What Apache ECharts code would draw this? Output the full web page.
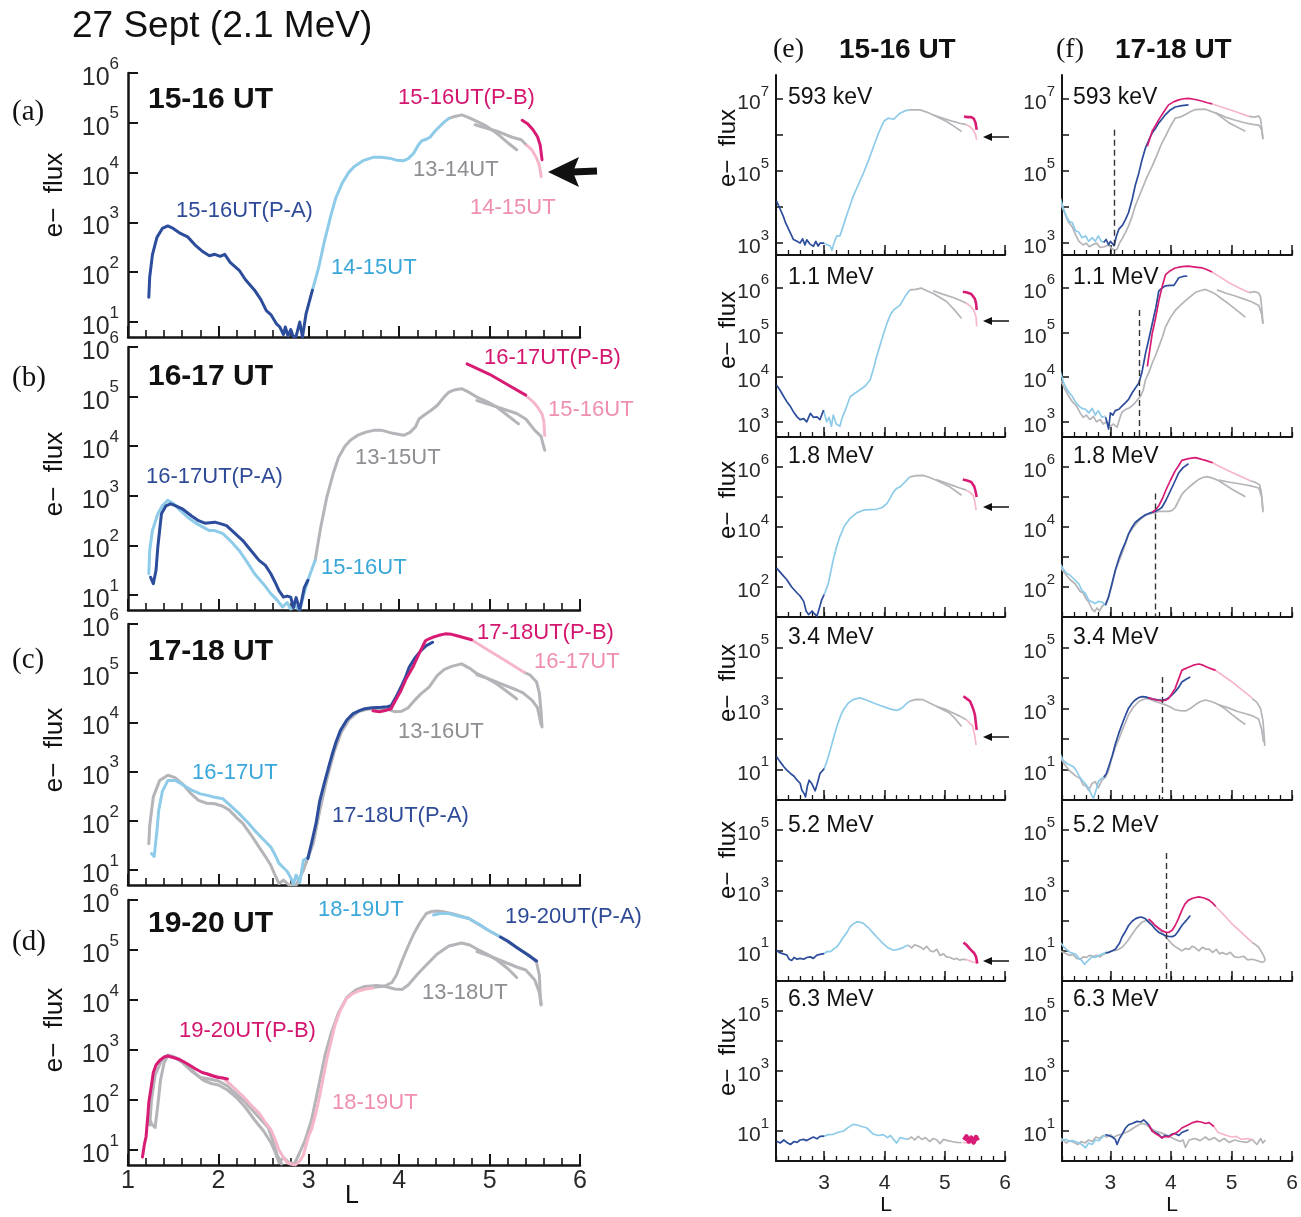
<!DOCTYPE html>
<html><head><meta charset="utf-8">
<script src="https://cdn.jsdelivr.net/npm/echarts@6/dist/echarts.min.js"></script>
<style>html,body{margin:0;padding:0;background:#fff}#c{width:1301px;height:1217px}</style>
</head><body><div id="c"></div>
<script>
// ===== DATA: [L, log10(e- flux)] =====
// ---- (a) 15-16 UT, 2.1 MeV ----
const a_dark = [[1.23,1.5],[1.24,1.9],[1.27,2.35],[1.32,2.7],[1.38,2.88],[1.44,2.93],[1.5,2.88],[1.58,2.78],[1.66,2.71],[1.74,2.55],[1.83,2.41],[1.9,2.33],[1.96,2.36],[2.02,2.32],[2.07,2.36],[2.13,2.2],[2.23,2.04],[2.3,1.85],[2.4,1.64],[2.47,1.45],[2.53,1.23],[2.58,1.15],[2.64,0.97],[2.68,0.9],[2.72,0.75],[2.74,0.9],[2.77,0.72],[2.8,0.85],[2.83,0.7],[2.86,0.72],[2.9,1.0],[2.93,0.7],[2.97,1.17],[3.04,1.64]];
const a_light = [[3.04,1.64],[3.11,2.1],[3.17,2.6],[3.24,3.11],[3.3,3.5],[3.37,3.79],[3.44,4.0],[3.5,4.12],[3.6,4.24],[3.72,4.31],[3.8,4.31],[3.89,4.29],[3.97,4.25],[4.05,4.24],[4.1,4.28],[4.16,4.39],[4.21,4.55],[4.25,4.64],[4.3,4.67],[4.34,4.71],[4.4,4.84],[4.45,4.93],[4.5,5.02],[4.55,5.09]];
const a_gray = [[4.55,5.09],[4.6,5.12],[4.65,5.14],[4.69,5.16],[4.75,5.12],[4.8,5.08],[4.86,5.03],[4.95,4.95],[5.08,4.79],[5.2,4.6],[5.3,4.46]];
const a_gray2 = [[4.84,4.96],[4.95,4.9],[5.1,4.82],[5.25,4.71],[5.35,4.66],[5.41,4.55]];
const a_pink = [[5.41,4.55],[5.47,4.45],[5.52,4.29],[5.55,4.15],[5.57,3.92]];
const a_mag = [[5.36,5.05],[5.42,4.98],[5.48,4.86],[5.53,4.72],[5.56,4.55],[5.58,4.26]];
// ---- (b) 16-17 UT ----
const b_light = [[1.23,1.43],[1.24,1.9],[1.27,2.3],[1.33,2.64],[1.38,2.8],[1.44,2.91],[1.5,2.85],[1.58,2.7],[1.66,2.57],[1.75,2.45],[1.83,2.37],[1.9,2.3],[1.96,2.3],[2.05,2.24],[2.14,2.08],[2.23,1.9],[2.32,1.66],[2.4,1.43],[2.5,1.22],[2.58,1.03],[2.65,0.9],[2.71,0.76],[2.76,0.85],[2.8,0.72],[2.85,0.78],[2.9,0.7],[2.95,1.05],[3.0,1.35],[3.07,1.7]];
const b_dark = [[1.25,1.36],[1.28,1.23],[1.31,1.5],[1.33,1.97],[1.37,2.64],[1.42,2.8],[1.47,2.84],[1.53,2.8],[1.6,2.74],[1.7,2.6],[1.78,2.5],[1.85,2.45],[1.96,2.47],[2.02,2.44],[2.09,2.4],[2.18,2.25],[2.27,2.1],[2.36,1.9],[2.45,1.7],[2.52,1.6],[2.58,1.43],[2.63,1.25],[2.67,1.09],[2.72,0.96],[2.76,0.98],[2.8,0.96],[2.83,0.75],[2.86,0.95],[2.9,0.7],[2.95,1.15],[2.99,1.3]];
const b_gray = [[3.07,1.7],[3.13,2.35],[3.2,2.98],[3.27,3.45],[3.33,3.78],[3.4,4.0],[3.46,4.12],[3.55,4.23],[3.64,4.29],[3.72,4.32],[3.81,4.32],[3.93,4.26],[4.05,4.22],[4.12,4.28],[4.18,4.39],[4.22,4.55],[4.27,4.62],[4.35,4.72],[4.42,4.82],[4.5,5.0],[4.55,5.09],[4.62,5.14],[4.69,5.16],[4.78,5.08],[4.86,4.99],[4.97,4.9],[5.08,4.79],[5.2,4.62],[5.32,4.45]];
const b_gray2 = [[4.86,4.92],[5.0,4.84],[5.15,4.75],[5.3,4.66],[5.4,4.55],[5.5,4.32],[5.57,4.2],[5.59,4.05],[5.61,3.92]];
const b_pink = [[5.42,4.99],[5.48,4.9],[5.53,4.79],[5.58,4.65],[5.6,4.5],[5.61,4.22]];
const b_mag = [[4.75,5.66],[5.0,5.45],[5.2,5.24],[5.4,5.03]];
// ---- (c) 17-18 UT ----
const c_grayL = [[1.23,1.54],[1.24,1.9],[1.26,2.2],[1.28,2.49],[1.35,2.82],[1.44,2.93],[1.52,2.88],[1.6,2.76],[1.7,2.55],[1.78,2.42],[1.87,2.36],[1.96,2.35],[2.05,2.3],[2.12,2.22],[2.2,2.07],[2.27,1.95],[2.36,1.72],[2.45,1.47],[2.53,1.25],[2.58,1.1],[2.62,0.93],[2.67,0.73],[2.72,0.8],[2.78,0.7],[2.86,0.7],[2.9,0.85],[2.94,1.0]];
const c_grayR = [[2.94,1.0],[3.05,1.55],[3.12,2.2],[3.2,2.85],[3.28,3.4],[3.36,3.8],[3.45,4.07],[3.55,4.22],[3.65,4.27],[3.75,4.29],[3.85,4.28],[3.95,4.22],[4.03,4.23],[4.1,4.3],[4.17,4.45],[4.24,4.58],[4.33,4.72],[4.42,4.95],[4.5,5.08],[4.58,5.14],[4.69,5.19],[4.78,5.1],[4.86,4.99],[4.97,4.9],[5.08,4.78],[5.2,4.62],[5.3,4.48]];
const c_gray2 = [[4.86,4.97],[5.0,4.88],[5.15,4.77],[5.3,4.66],[5.37,4.6],[5.47,4.45],[5.53,4.3],[5.57,3.95]];
const c_gray3 = [[5.38,5.02],[5.45,4.96],[5.52,4.82],[5.55,4.6],[5.57,4.2],[5.58,3.91]];
const c_light = [[1.26,1.34],[1.29,1.28],[1.32,1.8],[1.34,2.22],[1.38,2.6],[1.44,2.82],[1.53,2.82],[1.62,2.72],[1.71,2.62],[1.8,2.55],[1.88,2.52],[1.96,2.48],[2.05,2.45],[2.14,2.3],[2.23,2.15],[2.32,1.98],[2.4,1.81],[2.5,1.62],[2.58,1.47],[2.63,1.3],[2.67,1.14],[2.72,1.05],[2.76,0.98],[2.8,0.85],[2.83,0.72],[2.86,0.9],[2.9,0.75],[2.94,1.2],[3.0,1.27]];
const c_dark = [[2.99,1.24],[3.03,1.55],[3.08,1.95],[3.12,2.4],[3.17,2.76],[3.22,3.1],[3.26,3.36],[3.3,3.6],[3.35,3.84],[3.42,4.05],[3.49,4.18],[3.56,4.24],[3.62,4.28],[3.7,4.3],[3.8,4.31],[3.87,4.32],[3.91,4.34],[3.96,4.5],[4.02,4.72],[4.07,4.92],[4.11,5.12],[4.17,5.3],[4.24,5.46],[4.3,5.56],[4.37,5.63]];
const c_mag = [[3.71,4.24],[3.78,4.22],[3.86,4.25],[3.91,4.28],[3.96,4.45],[4.02,4.65],[4.08,4.9],[4.15,5.12],[4.22,5.4],[4.29,5.66],[4.33,5.7],[4.37,5.73],[4.44,5.77],[4.51,5.8],[4.58,5.79],[4.64,5.76],[4.72,5.72],[4.8,5.68]];
const c_pink = [[4.8,5.68],[5.0,5.45],[5.2,5.23],[5.38,5.02]];
// ---- (d) 19-20 UT ----
const d_grayA = [[1.24,1.6],[1.27,1.5],[1.3,1.45],[1.33,1.9],[1.36,2.4],[1.4,2.75],[1.44,2.88],[1.5,2.87],[1.58,2.8],[1.66,2.7],[1.75,2.52],[1.83,2.4],[1.92,2.33],[2.0,2.3],[2.1,2.2],[2.2,2.05],[2.3,1.85],[2.4,1.6],[2.5,1.38],[2.58,1.15],[2.63,0.95],[2.67,0.75],[2.72,0.85],[2.78,0.75],[2.84,0.72],[2.9,0.95],[2.96,1.2]];
const d_grayB = [[1.24,1.5],[1.26,2.0],[1.3,2.5],[1.38,2.82],[1.44,2.9],[1.52,2.85],[1.6,2.75],[1.7,2.58],[1.8,2.45],[1.9,2.42],[2.0,2.38],[2.1,2.28],[2.2,2.12],[2.3,1.95],[2.4,1.75],[2.5,1.55],[2.55,1.45],[2.6,1.2],[2.65,0.9],[2.7,0.72]];
const d_grayR = [[2.96,1.2],[3.03,1.6],[3.1,2.2],[3.18,2.9],[3.25,3.35],[3.33,3.75],[3.42,4.05],[3.52,4.2],[3.62,4.27],[3.75,4.29],[3.85,4.27],[3.95,4.22],[4.03,4.21],[4.1,4.3],[4.2,4.51],[4.3,4.7],[4.42,4.92],[4.55,5.08],[4.69,5.14],[4.78,5.1],[4.86,5.02],[4.97,4.92],[5.08,4.8],[5.2,4.63],[5.3,4.45]];
const d_grayR2 = [[4.86,4.97],[5.0,4.88],[5.15,4.77],[5.3,4.66],[5.4,4.6],[5.5,4.4],[5.55,4.15],[5.57,3.9]];
const d_grayNew = [[3.7,4.25],[3.84,4.28],[3.92,4.35],[3.97,4.5],[4.03,4.78],[4.1,5.08],[4.16,5.32],[4.23,5.55],[4.3,5.73],[4.36,5.77],[4.42,5.78],[4.5,5.76],[4.6,5.72],[4.77,5.63],[4.99,5.39],[5.12,5.26],[5.3,5.05],[5.45,4.88],[5.52,4.75],[5.55,4.5],[5.56,4.1],[5.57,3.92]];
const d_mag = [[1.16,0.86],[1.18,1.1],[1.2,1.27],[1.22,1.7],[1.23,1.95],[1.26,2.3],[1.28,2.55],[1.31,2.7],[1.35,2.79],[1.4,2.86],[1.44,2.88],[1.5,2.85],[1.57,2.81],[1.66,2.72],[1.75,2.62],[1.82,2.55],[1.88,2.52],[1.94,2.48],[2.0,2.45],[2.05,2.44],[2.1,2.42]];
const d_pink = [[1.88,2.52],[1.96,2.48],[2.05,2.44],[2.14,2.3],[2.27,2.08],[2.36,1.9],[2.45,1.74],[2.52,1.55],[2.58,1.41],[2.63,1.2],[2.67,1.0],[2.72,0.85],[2.76,0.75],[2.8,0.72],[2.85,0.7],[2.9,0.78],[2.94,0.9],[3.0,1.3],[3.03,1.41],[3.08,1.75],[3.12,2.08],[3.16,2.45],[3.2,2.82],[3.25,3.2],[3.29,3.5],[3.35,3.8],[3.42,4.04],[3.48,4.12],[3.55,4.18],[3.63,4.22],[3.71,4.24]];
const d_light = [[4.38,5.7],[4.45,5.73],[4.55,5.73],[4.65,5.68],[4.77,5.63],[4.88,5.52],[4.99,5.39],[5.12,5.26]];
const d_dark = [[5.12,5.26],[5.2,5.18],[5.3,5.05],[5.4,4.93],[5.52,4.78]];

// ---- (e) 15-16 UT, six energies ----
const e1_dark = [[2.21,4.17],[2.27,3.94],[2.32,3.75],[2.36,3.56],[2.44,3.28],[2.49,3.1],[2.52,3.15],[2.55,3.05],[2.6,3.0],[2.64,3.12],[2.68,2.95],[2.71,3.09],[2.76,2.98],[2.82,2.91],[2.86,3.05],[2.9,2.92],[2.93,3.0],[3.0,3.0]];
const e1_light = [[3.0,3.0],[3.05,2.95],[3.1,2.92],[3.13,2.8],[3.16,3.0],[3.21,3.2],[3.26,3.2],[3.32,3.5],[3.37,3.76],[3.43,4.05],[3.48,4.3],[3.56,4.6],[3.65,4.94],[3.74,5.32],[3.82,5.69],[3.9,6.05],[3.95,6.24],[4.0,6.4],[4.06,6.47],[4.15,6.44],[4.26,6.61],[4.35,6.68],[4.42,6.7]];
const e1_gray = [[4.42,6.7],[4.59,6.7],[4.7,6.64],[4.81,6.56],[4.92,6.47],[5.03,6.38],[5.15,6.25],[5.28,6.1]];
const e1_gray2 = [[4.81,6.56],[5.0,6.45],[5.14,6.38],[5.25,6.33],[5.36,6.29]];
const e1_pink = [[5.36,6.29],[5.42,6.23],[5.47,6.15],[5.51,6.02],[5.53,5.87]];
const e1_mag = [[5.32,6.52],[5.38,6.5],[5.44,6.5],[5.48,6.46],[5.51,6.35],[5.53,6.15]];

const e2_dark = [[2.21,3.82],[2.27,3.7],[2.33,3.56],[2.38,3.45],[2.44,3.34],[2.5,3.2],[2.55,3.11],[2.6,3.05],[2.66,3.07],[2.71,3.0],[2.77,3.19],[2.82,3.1],[2.88,3.11],[2.93,3.05],[2.99,3.26]];
const e2_light = [[2.99,3.26],[3.04,3.0],[3.08,3.1],[3.12,2.9],[3.15,3.15],[3.2,2.95],[3.26,2.9],[3.3,3.1],[3.35,3.26],[3.43,3.56],[3.52,3.65],[3.59,3.71],[3.68,3.8],[3.76,3.93],[3.82,4.2],[3.87,4.46],[3.95,4.82],[4.04,5.2],[4.1,5.4],[4.15,5.5],[4.26,5.61],[4.34,5.8],[4.42,5.95]];
const e2_gray = [[4.42,5.95],[4.52,5.96],[4.61,5.99],[4.7,5.93],[4.81,5.87],[4.92,5.78],[5.03,5.69],[5.15,5.52],[5.28,5.31]];
const e2_gray2 = [[4.81,5.93],[4.95,5.86],[5.14,5.78],[5.25,5.72],[5.36,5.65]];
const e2_pink = [[5.36,5.65],[5.43,5.58],[5.48,5.5],[5.52,5.35],[5.53,5.13]];
const e2_mag = [[5.3,5.91],[5.37,5.89],[5.44,5.86],[5.5,5.75],[5.52,5.65],[5.53,5.5]];

const e3_dark = [[2.21,2.63],[2.3,2.42],[2.38,2.24],[2.46,2.0],[2.55,1.8],[2.6,1.7],[2.66,1.52],[2.7,1.2],[2.74,1.08],[2.77,1.03],[2.8,1.2],[2.84,1.1],[2.88,1.03],[2.92,1.3],[2.96,1.58],[3.0,1.75]];
const e3_light = [[3.0,1.75],[3.07,2.13],[3.15,2.91],[3.2,3.3],[3.26,3.68],[3.34,4.05],[3.43,4.29],[3.54,4.47],[3.65,4.56],[3.76,4.58],[3.87,4.59],[3.96,4.65],[4.04,4.78],[4.1,4.98],[4.15,5.17],[4.2,5.28],[4.26,5.34],[4.34,5.5],[4.42,5.67]];
const e3_gray = [[4.42,5.67],[4.53,5.71],[4.64,5.72],[4.75,5.65],[4.86,5.56],[4.97,5.45],[5.08,5.34],[5.18,5.2],[5.28,5.06]];
const e3_gray2 = [[4.86,5.58],[5.0,5.48],[5.14,5.38],[5.25,5.3],[5.36,5.23]];
const e3_pink = [[5.36,5.23],[5.42,5.15],[5.47,5.06],[5.5,4.85],[5.52,4.56]];
const e3_mag = [[5.3,5.58],[5.37,5.55],[5.44,5.5],[5.49,5.35],[5.51,5.2],[5.53,5.0]];

const e4_dark = [[2.21,1.42],[2.27,1.25],[2.33,1.09],[2.38,0.98],[2.44,0.87],[2.5,0.78],[2.55,0.65],[2.6,0.55],[2.63,0.32],[2.67,0.2],[2.69,0.1],[2.72,0.45],[2.75,0.65],[2.79,0.55],[2.82,0.6],[2.85,0.3],[2.88,0.5],[2.93,0.87],[3.0,1.03]];
const e4_light = [[3.0,1.03],[3.05,1.3],[3.1,1.64],[3.15,2.0],[3.21,2.41],[3.27,2.75],[3.32,2.96],[3.4,3.18],[3.48,3.29],[3.59,3.35],[3.7,3.28],[3.82,3.18],[3.93,3.1],[4.04,3.02],[4.12,2.97],[4.2,2.94],[4.26,2.98],[4.31,3.05],[4.36,3.15],[4.42,3.24]];
const e4_gray = [[4.42,3.24],[4.53,3.3],[4.64,3.29],[4.75,3.18],[4.86,3.07],[4.97,2.96],[5.08,2.85],[5.18,2.65],[5.28,2.41]];
const e4_gray2 = [[4.86,3.07],[5.0,2.98],[5.14,2.85],[5.25,2.75],[5.36,2.63]];
const e4_pink = [[5.36,2.63],[5.42,2.5],[5.46,2.45],[5.5,2.1],[5.52,1.8]];
const e4_mag = [[5.31,3.4],[5.38,3.3],[5.42,3.24],[5.47,3.0],[5.5,2.8],[5.53,2.3]];

const e5_dark = [[2.21,1.02],[2.25,0.95],[2.28,1.0],[2.32,0.9],[2.38,0.86],[2.42,0.72],[2.46,0.68],[2.5,0.78],[2.55,0.72],[2.6,0.75],[2.66,0.72],[2.71,0.78],[2.77,0.8],[2.82,0.75],[2.88,0.86],[2.93,0.88],[3.0,0.91]];
const e5_light = [[3.0,0.91],[3.05,0.98],[3.1,0.97],[3.15,1.05],[3.21,1.13],[3.27,1.3],[3.32,1.46],[3.38,1.62],[3.43,1.8],[3.49,1.9],[3.54,1.96],[3.6,1.95],[3.65,1.91],[3.74,1.75],[3.82,1.57],[3.9,1.4],[3.98,1.24],[4.06,1.1],[4.15,1.02],[4.22,1.05],[4.3,1.1],[4.39,1.19]];
const e5_gray = [[4.39,1.19],[4.45,1.1],[4.5,1.2],[4.59,1.13],[4.65,1.05],[4.7,1.15],[4.76,1.0],[4.81,0.97],[4.87,1.05],[4.92,0.85],[4.98,0.9],[5.03,0.8],[5.09,0.78],[5.15,0.72],[5.2,0.75],[5.25,0.69],[5.3,0.72],[5.36,0.71]];
const e5_gray2 = [];
const e5_pink = [[5.36,0.71],[5.42,0.66],[5.47,0.63],[5.53,0.6]];
const e5_mag = [[5.31,1.27],[5.36,1.2],[5.41,1.08],[5.45,1.0],[5.49,0.92],[5.52,0.8],[5.54,0.58]];

const e6_dark = [[2.21,0.66],[2.27,0.6],[2.33,0.7],[2.38,0.62],[2.44,0.55],[2.5,0.65],[2.55,0.62],[2.6,0.7],[2.66,0.72],[2.71,0.68],[2.77,0.75],[2.82,0.8],[2.88,0.74],[2.93,0.82],[3.0,0.83]];
const e6_light = [[3.0,0.83],[3.07,0.88],[3.15,0.89],[3.22,0.95],[3.32,1.0],[3.4,1.12],[3.48,1.22],[3.55,1.2],[3.62,1.15],[3.7,1.11],[3.76,1.0],[3.82,0.89],[3.9,0.85],[3.98,0.88],[4.05,0.78],[4.1,0.85],[4.15,0.72],[4.2,0.6],[4.26,0.78],[4.32,0.75],[4.39,0.72]];
const e6_gray = [[4.39,0.72],[4.45,0.8],[4.5,0.7],[4.56,0.82],[4.62,0.72],[4.68,0.78],[4.75,0.65],[4.81,0.75],[4.87,0.7],[4.92,0.58],[4.98,0.72],[5.05,0.68],[5.12,0.65],[5.2,0.62],[5.28,0.61]];
const e6_gray2 = [];
const e6_pink = [[5.3,0.62],[5.4,0.6],[5.5,0.62]];
const e6_mag = [[5.32,0.7],[5.36,0.82],[5.4,0.65],[5.44,0.78],[5.48,0.62],[5.52,0.8],[5.55,0.68]];

// ---- (f) 17-18 UT, six energies ----
const f1_gray = [[2.17,4.12],[2.24,3.85],[2.3,3.6],[2.37,3.45],[2.42,3.25],[2.48,3.05],[2.55,2.95],[2.6,3.0],[2.65,2.9],[2.7,2.95],[2.77,3.0],[2.83,2.88],[2.9,2.9],[2.97,2.95],[3.02,2.85],[3.07,2.8],[3.11,2.83],[3.15,3.0],[3.19,3.11],[3.25,3.3],[3.3,3.48],[3.36,3.75],[3.41,4.03],[3.47,4.28],[3.52,4.49],[3.6,4.82],[3.69,5.14],[3.77,5.45],[3.85,5.78],[3.92,6.0],[3.99,6.24],[4.07,6.47],[4.15,6.5],[4.24,6.57],[4.32,6.65],[4.4,6.71],[4.57,6.72],[4.74,6.61],[4.85,6.48],[4.96,6.34],[5.1,6.22],[5.23,6.11]];
const f1_grayMid = [[4.74,6.62],[4.9,6.5],[5.05,6.42],[5.2,6.35],[5.35,6.3],[5.45,6.28],[5.5,6.15],[5.52,5.9]];
const f1_grayEnd = [[5.29,6.52],[5.38,6.5],[5.45,6.53],[5.48,6.45],[5.5,6.2],[5.52,5.88]];
const f1_light = [[2.17,4.26],[2.22,3.98],[2.27,3.75],[2.32,3.6],[2.37,3.57],[2.42,3.35],[2.48,3.3],[2.53,3.15],[2.59,3.2],[2.64,3.05],[2.7,3.15],[2.75,3.05],[2.8,3.2],[2.85,3.05],[2.89,3.02]];
const f1_dark = [[2.89,3.02],[2.93,3.1],[2.97,2.95],[3.0,3.05],[3.03,3.0],[3.06,2.93],[3.1,3.2],[3.14,3.39],[3.2,3.5],[3.25,3.66],[3.3,3.85],[3.36,4.22],[3.41,4.6],[3.47,4.95],[3.52,5.3],[3.58,5.65],[3.64,5.88],[3.69,6.06],[3.75,6.2],[3.8,6.34],[3.86,6.46],[3.91,6.57],[3.99,6.7],[4.07,6.78],[4.18,6.82],[4.29,6.84]];
const f1_mag = [[3.61,5.69],[3.65,5.9],[3.69,6.11],[3.75,6.28],[3.8,6.43],[3.88,6.64],[3.96,6.84],[4.05,6.93],[4.13,6.98],[4.21,7.01],[4.29,7.02],[4.4,6.99],[4.52,6.94],[4.6,6.9],[4.68,6.87]];
const f1_pink = [[4.68,6.87],[4.82,6.79],[4.96,6.71],[5.12,6.62],[5.29,6.52]];

const f2_gray = [[2.17,3.95],[2.24,3.75],[2.3,3.6],[2.37,3.45],[2.44,3.35],[2.5,3.2],[2.55,3.1],[2.6,3.15],[2.66,3.05],[2.72,3.12],[2.77,3.0],[2.83,3.05],[2.88,2.95],[2.94,3.0],[3.0,2.9],[3.05,2.95],[3.11,2.88],[3.16,3.1],[3.19,3.21],[3.25,3.28],[3.3,3.3],[3.36,3.36],[3.41,3.43],[3.5,3.58],[3.54,3.7],[3.58,3.94],[3.64,4.12],[3.69,4.31],[3.75,4.5],[3.8,4.68],[3.86,4.9],[3.91,5.12],[3.99,5.33],[4.07,5.49],[4.15,5.6],[4.24,5.71],[4.32,5.8],[4.4,5.89],[4.48,5.93],[4.57,5.96],[4.66,5.91],[4.74,5.85],[4.85,5.74],[4.96,5.63],[5.1,5.48],[5.23,5.34]];
const f2_grayMid = [[4.76,5.95],[4.9,5.88],[5.05,5.82],[5.2,5.75],[5.34,5.68],[5.45,5.6],[5.5,5.4],[5.52,5.19]];
const f2_grayEnd = [[5.29,5.89],[5.38,5.91],[5.45,5.88],[5.48,5.8],[5.5,5.55],[5.52,5.2]];
const f2_light = [[2.17,4.13],[2.22,3.9],[2.27,3.75],[2.32,3.65],[2.37,3.57],[2.42,3.45],[2.48,3.35],[2.53,3.3],[2.59,3.28],[2.64,3.2],[2.7,3.3],[2.75,3.15],[2.8,3.25],[2.86,3.1],[2.92,3.13]];
const f2_dark = [[2.92,3.1],[2.95,2.95],[2.97,2.84],[3.0,3.2],[3.04,3.15],[3.08,3.25],[3.14,3.28],[3.19,3.35],[3.25,3.43],[3.3,3.5],[3.36,3.65],[3.41,3.75],[3.47,3.87],[3.52,4.1],[3.58,4.53],[3.64,4.88],[3.69,5.19],[3.75,5.55],[3.8,5.93],[3.86,6.0],[3.91,6.04],[3.99,6.05],[4.05,6.05],[4.13,6.22],[4.2,6.25],[4.27,6.26]];
const f2_mag = [[3.61,4.24],[3.65,4.6],[3.69,4.97],[3.75,5.35],[3.8,5.71],[3.86,6.05],[3.91,6.29],[3.99,6.38],[4.07,6.44],[4.18,6.47],[4.29,6.48],[4.4,6.46],[4.52,6.44],[4.6,6.4],[4.68,6.35]];
const f2_pink = [[4.68,6.35],[4.82,6.23],[4.96,6.11],[5.12,6.0],[5.29,5.89]];

const f3_gray = [[2.17,2.66],[2.25,2.45],[2.33,2.25],[2.42,2.1],[2.5,1.85],[2.55,1.8],[2.6,1.6],[2.64,1.5],[2.7,1.25],[2.74,1.18],[2.78,1.3],[2.82,1.2],[2.86,1.35],[2.92,1.45],[2.97,1.67],[3.03,2.1],[3.08,2.55],[3.14,2.85],[3.19,3.1],[3.25,3.45],[3.3,3.77],[3.38,4.0],[3.47,4.21],[3.55,4.35],[3.63,4.43],[3.72,4.48],[3.8,4.52],[3.88,4.52],[3.96,4.52],[4.02,4.55],[4.07,4.65],[4.12,4.85],[4.18,5.09],[4.24,5.22],[4.29,5.31],[4.37,5.45],[4.46,5.59],[4.53,5.65],[4.6,5.68],[4.7,5.62],[4.79,5.54],[4.9,5.4],[5.01,5.26],[5.12,5.13],[5.23,5.01]];
const f3_grayMid = [[4.79,5.56],[4.95,5.5],[5.1,5.45],[5.25,5.4],[5.34,5.36],[5.45,5.3],[5.5,5.0],[5.52,4.55]];
const f3_grayEnd = [[5.31,5.54],[5.38,5.5],[5.46,5.42],[5.49,5.2],[5.51,4.8],[5.52,4.49]];
const f3_light = [[2.17,2.77],[2.22,2.6],[2.28,2.45],[2.33,2.4],[2.38,2.3],[2.42,2.22],[2.48,2.1],[2.53,1.88],[2.58,1.8],[2.64,1.56],[2.7,1.5],[2.75,1.45],[2.8,1.52],[2.86,1.5],[2.92,1.39]];
const f3_dark = [[2.92,1.39],[2.97,1.67],[3.03,2.15],[3.08,2.55],[3.14,2.95],[3.19,3.22],[3.25,3.5],[3.3,3.77],[3.36,4.0],[3.41,4.15],[3.5,4.3],[3.58,4.41],[3.66,4.47],[3.74,4.52],[3.8,4.58],[3.85,4.65],[3.92,4.9],[3.99,5.2],[4.06,5.5],[4.13,5.81],[4.2,5.98],[4.29,6.11]];
const f3_mag = [[3.69,4.49],[3.75,4.58],[3.8,4.71],[3.86,4.95],[3.91,5.2],[3.99,5.55],[4.07,5.87],[4.13,6.05],[4.18,6.22],[4.29,6.28],[4.4,6.31],[4.5,6.26],[4.57,6.22],[4.69,6.14]];
const f3_pink = [[4.69,6.14],[4.82,6.0],[4.96,5.87],[5.14,5.7],[5.31,5.54]];

const f4_gray = [[2.17,1.4],[2.25,1.15],[2.33,0.95],[2.42,0.8],[2.5,0.7],[2.55,0.5],[2.6,0.45],[2.64,0.32],[2.7,0.55],[2.75,0.6],[2.8,0.4],[2.86,0.65],[2.92,0.75],[2.97,0.97],[3.02,1.35],[3.08,1.72],[3.14,2.0],[3.19,2.26],[3.25,2.55],[3.3,2.8],[3.38,3.05],[3.47,3.23],[3.58,3.33],[3.66,3.3],[3.74,3.23],[3.82,3.18],[3.91,3.12],[3.99,3.05],[4.07,2.96],[4.15,2.93],[4.24,2.92],[4.32,3.0],[4.4,3.12],[4.48,3.22],[4.57,3.28],[4.68,3.22],[4.79,3.12],[4.9,2.98],[5.01,2.8],[5.12,2.63],[5.23,2.47]];
const f4_grayMid = [[4.79,3.12],[4.95,3.02],[5.1,2.9],[5.25,2.82],[5.36,2.75],[5.45,2.65],[5.5,2.3],[5.53,1.9]];
const f4_grayEnd = [[5.34,3.33],[5.42,3.2],[5.48,3.0],[5.52,2.6],[5.54,2.1],[5.55,1.77]];
const f4_light = [[2.17,1.5],[2.22,1.3],[2.28,1.2],[2.33,1.15],[2.38,1.1],[2.42,1.02],[2.48,0.8],[2.53,0.65],[2.58,0.55],[2.64,0.38],[2.68,0.2],[2.72,0.05],[2.76,0.3],[2.8,0.6],[2.85,0.7],[2.89,0.75]];
const f4_dark = [[2.89,0.75],[2.93,0.85],[2.97,1.08],[3.03,1.45],[3.08,1.83],[3.14,2.2],[3.19,2.47],[3.25,2.78],[3.3,3.01],[3.36,3.18],[3.41,3.28],[3.47,3.36],[3.52,3.39],[3.58,3.38],[3.63,3.35],[3.7,3.31],[3.78,3.28],[3.85,3.27],[3.92,3.3],[3.96,3.35],[4.02,3.45],[4.07,3.55],[4.13,3.7],[4.18,3.87],[4.25,3.96],[4.32,4.03]];
const f4_mag = [[3.63,3.35],[3.7,3.31],[3.78,3.27],[3.85,3.25],[3.92,3.28],[3.96,3.33],[4.02,3.5],[4.07,3.66],[4.13,3.98],[4.18,4.25],[4.23,4.3],[4.29,4.35],[4.37,4.42],[4.46,4.46],[4.53,4.42],[4.6,4.35],[4.67,4.3],[4.74,4.25]];
const f4_pink = [[4.74,4.25],[4.88,4.05],[5.01,3.87],[5.18,3.6],[5.34,3.35]];

const f5_gray = [[2.17,1.0],[2.22,0.95],[2.27,0.9],[2.33,0.85],[2.38,0.88],[2.44,0.75],[2.5,0.72],[2.55,0.8],[2.6,0.78],[2.66,0.85],[2.72,0.82],[2.77,0.85],[2.83,0.8],[2.88,0.88],[2.94,0.92],[3.03,1.0],[3.1,1.02],[3.19,1.11],[3.28,1.32],[3.36,1.56],[3.44,1.78],[3.52,1.95],[3.58,2.0],[3.63,2.0],[3.69,1.92],[3.74,1.83],[3.8,1.72],[3.85,1.61],[3.93,1.42],[4.02,1.22],[4.1,1.1],[4.18,1.0],[4.24,1.08],[4.3,1.05],[4.35,1.15],[4.4,1.11],[4.46,1.0],[4.52,1.12],[4.58,1.05],[4.63,1.06],[4.69,0.95],[4.75,1.05],[4.8,0.9],[4.85,0.94],[4.92,0.88],[4.98,0.95],[5.05,0.8],[5.12,0.78],[5.2,0.82],[5.27,0.7],[5.34,0.72],[5.42,0.68],[5.5,0.62],[5.55,0.65]];
const f5_grayMid = [];
const f5_grayEnd = [[5.34,1.28],[5.4,1.2],[5.45,1.12],[5.5,0.95],[5.54,0.8],[5.56,0.66]];
const f5_light = [[2.17,1.28],[2.22,1.15],[2.27,1.05],[2.33,0.95],[2.38,0.92],[2.42,0.89],[2.48,0.75],[2.53,0.68],[2.57,0.55],[2.59,0.5],[2.64,0.7],[2.7,0.8],[2.75,0.78],[2.81,0.85],[2.87,0.9],[2.92,0.94]];
const f5_dark = [[2.92,0.94],[2.97,0.95],[3.03,1.0],[3.08,1.05],[3.11,1.1],[3.15,1.25],[3.19,1.45],[3.25,1.65],[3.3,1.84],[3.36,1.98],[3.41,2.06],[3.46,2.1],[3.5,2.12],[3.54,2.1],[3.58,2.06],[3.63,1.95],[3.69,1.84],[3.74,1.72],[3.8,1.61],[3.86,1.55],[3.91,1.5],[3.96,1.48],[4.02,1.47],[4.07,1.52],[4.12,1.65],[4.18,1.84],[4.25,2.0],[4.32,2.17]];
const f5_mag = [[3.63,2.06],[3.69,1.95],[3.74,1.84],[3.8,1.75],[3.85,1.67],[3.91,1.62],[3.96,1.61],[4.02,1.68],[4.07,1.84],[4.12,2.05],[4.18,2.34],[4.23,2.55],[4.29,2.68],[4.37,2.75],[4.46,2.79],[4.55,2.75],[4.63,2.68],[4.69,2.58],[4.74,2.47]];
const f5_pink = [[4.74,2.47],[4.88,2.18],[5.01,1.89],[5.18,1.58],[5.34,1.28]];

const f6_gray = [[2.17,0.65],[2.22,0.7],[2.27,0.6],[2.33,0.68],[2.4,0.62],[2.46,0.55],[2.52,0.65],[2.58,0.6],[2.64,0.7],[2.7,0.65],[2.76,0.8],[2.82,0.75],[2.88,0.85],[2.94,0.8],[3.0,0.88],[3.05,0.78],[3.11,0.85],[3.19,0.9],[3.3,0.99],[3.38,1.1],[3.47,1.21],[3.52,1.25],[3.58,1.23],[3.66,1.1],[3.74,1.0],[3.82,0.95],[3.91,0.88],[3.99,0.8],[4.07,0.72],[4.15,0.65],[4.2,0.7],[4.24,0.45],[4.3,0.7],[4.4,0.75],[4.48,0.68],[4.57,0.8],[4.63,0.7],[4.72,0.78],[4.8,0.65],[4.88,0.75],[4.96,0.62],[5.05,0.7],[5.15,0.65],[5.25,0.62],[5.34,0.72],[5.42,0.55],[5.48,0.75],[5.52,0.6],[5.56,0.7]];
const f6_grayMid = [];
const f6_grayEnd = [];
const f6_light = [[2.17,0.77],[2.22,0.7],[2.27,0.72],[2.31,0.65],[2.37,0.68],[2.42,0.65],[2.48,0.6],[2.53,0.55],[2.59,0.44],[2.64,0.6],[2.7,0.55],[2.75,0.7],[2.81,0.68],[2.87,0.8],[2.92,0.88]];
const f6_dark = [[2.92,0.88],[2.97,0.85],[3.03,0.8],[3.08,0.72],[3.11,0.55],[3.15,0.75],[3.19,0.88],[3.25,1.1],[3.3,1.21],[3.36,1.25],[3.44,1.32],[3.5,1.3],[3.55,1.37],[3.6,1.28],[3.63,1.21],[3.69,1.0],[3.74,0.95],[3.8,0.88],[3.85,0.77],[3.9,0.85],[3.96,0.82],[4.02,0.9],[4.07,0.92],[4.13,0.85],[4.18,0.95],[4.24,1.0],[4.29,1.04]];
const f6_mag = [[3.63,1.21],[3.69,1.0],[3.74,0.92],[3.8,0.85],[3.85,0.77],[3.9,0.82],[3.96,0.8],[4.02,0.88],[4.07,0.92],[4.13,1.0],[4.18,1.1],[4.23,1.15],[4.29,1.21],[4.36,1.28],[4.43,1.32],[4.5,1.3],[4.57,1.25],[4.63,1.28],[4.71,1.15]];
const f6_pink = [[4.71,1.15],[4.78,0.95],[4.85,0.9],[4.92,0.85],[5.0,0.8],[5.08,0.82],[5.16,0.72],[5.25,0.75],[5.34,0.71]];

// dashed markers in (f): L position and top (log10 flux)
const f_dashL = [3.06, 3.48, 3.74, 3.85, 3.92];
const f_dashTop = [6.15, 5.5, 5.12, 4.03, 4.24];

// text
const titleText = '27 Sept (2.1 MeV)';
const leftTitles = ['15-16 UT','16-17 UT','17-18 UT','19-20 UT'];
const leftLetters = ['(a)','(b)','(c)','(d)'];
const energies = ['593 keV','1.1 MeV','1.8 MeV','3.4 MeV','5.2 MeV','6.3 MeV'];
const leftYTicks = [1,2,3,4,5,6];
const xLabelsRight = [3,4,5,6];
const rightYTicks = [[3,4,5,6,7],[3,4,5,6],[2,3,4,5,6],[1,2,3,4,5],[1,2,3,4,5],[1,2,3,4,5]];
const rightYLabels = [[3,5,7],[3,4,5,6],[2,4,6],[1,3,5],[1,3,5],[1,3,5]];

// ===== STYLE / LAYOUT =====
const COL = {dark:'#2c4c9c', light:'#8dcbe9', gray:'#b4b4b9', mag:'#d81b74', pink:'#f6b6c9'};
const TCOL = {dark:'#2f4b98', light:'#3aa7da', gray:'#8e8e93', mag:'#d4166f', pink:'#ef8fb2'};
const FF = "'Liberation Sans', Arial, sans-serif";
const FN = "'Liberation Sans Narrow','Liberation Sans', Arial, sans-serif";
const FS = "'Liberation Serif','Times New Roman', serif";

const leftBoxes = [[73,337],[347,610],[624,885],[900,1165]];
const rightTops = [75,255,437,617,800,981,1161];
const rightRanges = [[2.67,7.67],[2.66,6.73],[1,7],[0,6],[0,6],[0,6]];
const leftSegs = [
  [['gray',a_gray],['gray',a_gray2],['light',a_light],['pink',a_pink],['dark',a_dark],['mag',a_mag]],
  [['gray',b_gray],['gray',b_gray2],['light',b_light],['pink',b_pink],['dark',b_dark],['mag',b_mag]],
  [['gray',c_grayL],['gray',c_grayR],['gray',c_gray2],['gray',c_gray3],['light',c_light],['pink',c_pink],['dark',c_dark],['mag',c_mag]],
  [['gray',d_grayA],['gray',d_grayB],['gray',d_grayR],['gray',d_grayR2],['gray',d_grayNew],['pink',d_pink],['light',d_light],['dark',d_dark],['mag',d_mag]]
];
const eSegs = [
  [['gray',e1_gray],['gray',e1_gray2],['light',e1_light],['pink',e1_pink],['dark',e1_dark],['mag',e1_mag]],
  [['gray',e2_gray],['gray',e2_gray2],['light',e2_light],['pink',e2_pink],['dark',e2_dark],['mag',e2_mag]],
  [['gray',e3_gray],['gray',e3_gray2],['light',e3_light],['pink',e3_pink],['dark',e3_dark],['mag',e3_mag]],
  [['gray',e4_gray],['gray',e4_gray2],['light',e4_light],['pink',e4_pink],['dark',e4_dark],['mag',e4_mag]],
  [['gray',e5_gray],['gray',e5_gray2],['light',e5_light],['pink',e5_pink],['dark',e5_dark],['mag',e5_mag]],
  [['gray',e6_gray],['gray',e6_gray2],['light',e6_light],['pink',e6_pink],['dark',e6_dark],['mag',e6_mag]]
];
const fSegs = [
  [['gray',f1_gray],['gray',f1_grayMid],['gray',f1_grayEnd],['light',f1_light],['pink',f1_pink],['dark',f1_dark],['mag',f1_mag]],
  [['gray',f2_gray],['gray',f2_grayMid],['gray',f2_grayEnd],['light',f2_light],['pink',f2_pink],['dark',f2_dark],['mag',f2_mag]],
  [['gray',f3_gray],['gray',f3_grayMid],['gray',f3_grayEnd],['light',f3_light],['pink',f3_pink],['dark',f3_dark],['mag',f3_mag]],
  [['gray',f4_gray],['gray',f4_grayMid],['gray',f4_grayEnd],['light',f4_light],['pink',f4_pink],['dark',f4_dark],['mag',f4_mag]],
  [['gray',f5_gray],['gray',f5_grayMid],['gray',f5_grayEnd],['light',f5_light],['pink',f5_pink],['dark',f5_dark],['mag',f5_mag]],
  [['gray',f6_gray],['gray',f6_grayMid],['gray',f6_grayEnd],['light',f6_light],['pink',f6_pink],['dark',f6_dark],['mag',f6_mag]]
];

const grids = [], xAxes = [], yAxes = [], series = [];
const AX = '#151515';
const LBL = '#2a2a2a';
function supRich(big, small, raise) {
  return {
    b: {fontSize: big, fontFamily: FF, color: LBL, lineHeight: big + raise, verticalAlign: 'bottom'},
    s: {fontSize: small, fontFamily: FF, color: LBL, lineHeight: big + raise, verticalAlign: 'top'}
  };
}

// left grids
leftBoxes.forEach((bx, i) => {
  const gi = grids.length;
  grids.push({left: 128, top: bx[0], width: 452, height: bx[1]-bx[0], containLabel:false});
  xAxes.push({type:'value', gridIndex: gi, min:1, max:6, interval:1,
    axisLine:{lineStyle:{color:AX, width:2.5}},
    axisTick:{inside:true, length:11, lineStyle:{color:AX, width:2}},
    minorTick:{show:true, splitNumber:5, length:7, lineStyle:{color:AX, width:1.6}},
    axisLabel:{show: i===3, fontSize:25, fontFamily:FF, color:LBL, margin:4},
    splitLine:{show:false}, minorSplitLine:{show:false}});
  yAxes.push({type:'value', gridIndex: gi, min:0.7, max:6,
    axisLine:{show:true, lineStyle:{color:AX, width:2.5}},
    axisTick:{show:true, inside:true, length:10, customValues: leftYTicks, lineStyle:{color:AX, width:2}},
    axisLabel:{customValues: leftYTicks, margin:9, formatter: v => '{b|10}{s|' + v + '}', rich: supRich(25, 17, 10)},
    splitLine:{show:false}});
  leftSegs[i].forEach(sg => {
    series.push({type:'line', xAxisIndex: gi, yAxisIndex: gi, data: sg[1], symbol:'none', showSymbol:false,
      lineStyle:{color: COL[sg[0]], width: 3, join:'round', cap:'round'}, silent:true, animation:false, z:3});
  });
});

// right grids
const rTicks = [];
for (let k = 0; k <= 19; k++) rTicks.push(Math.round((2.2 + 0.2*k)*10)/10);
function addRight(colLeft, colWidth, segs, isF) {
  for (let r = 0; r < 6; r++) {
    const gi = grids.length;
    grids.push({left: colLeft, top: rightTops[r], width: colWidth, height: rightTops[r+1]-rightTops[r]});
    xAxes.push({type:'value', gridIndex: gi, min:2.2, max:6,
      axisLine:{lineStyle:{color:AX, width:2}},
      axisTick:{inside:true, length:5, customValues: rTicks, lineStyle:{color:AX, width:1.3}},
      axisLabel:{show: r===5, customValues: xLabelsRight, fontSize:21, fontFamily:FF, color:LBL, margin:12},
      splitLine:{show:false}});
    xAxes.push({type:'value', gridIndex: gi, min:2.2, max:6, position:'bottom',
      axisLine:{show:false},
      axisTick:{inside:true, length:10, customValues: xLabelsRight, lineStyle:{color:AX, width:1.5}},
      axisLabel:{show:false}, splitLine:{show:false}});
    yAxes.push({type:'value', gridIndex: gi, min: rightRanges[r][0], max: rightRanges[r][1],
      axisLine:{show:true, lineStyle:{color:AX, width:2}},
      axisTick:{show:true, inside:true, length:7, customValues: rightYTicks[r], lineStyle:{color:AX, width:1.5}},
      axisLabel:{customValues: rightYLabels[r], margin:7, formatter: v => '{b|10}{s|' + v + '}', rich: supRich(21, 15, 9)},
      splitLine:{show:false}});
    const xi = xAxes.length - 2;
    let first = null;
    segs[r].forEach(sg => {
      if (!sg[1].length) return;
      let w = 1.7;
      if (!isF && sg[0] === 'mag') w = (r === 5 ? 4.5 : 2.6);
      const s = {type:'line', xAxisIndex: xi, yAxisIndex: gi, data: sg[1], symbol:'none', showSymbol:false,
        lineStyle:{color: COL[sg[0]], width: w, join:'round'}, silent:true, animation:false, z:3};
      series.push(s);
      if (!first) first = s;
    });
    if (isF && r < 5) {
      first.markLine = {silent:true, symbol:['none','none'], animation:false, label:{show:false},
        lineStyle:{color:'#333', type:[6,4], width:1.4},
        emphasis:{disabled:true},
        data:[[{coord:[f_dashL[r], f_dashTop[r]]},{coord:[f_dashL[r], rightRanges[r][0]]}]]};
    }
  }
}
addRight(776, 229, eSegs, false);
addRight(1062, 230, fSegs, true);

// ===== graphics (text & arrows) =====
const G = [];
function txt(x, y, text, o) {
  const st = Object.assign({text: text, fill:'#111', fontSize:22, fontFamily:FF, align:'left', verticalAlign:'middle',
    textAlign:'left', textVerticalAlign:'middle'}, o || {});
  const el = {type:'text', x: x, y: y, silent:true, z:50, style: st};
  if (o && o.rot) el.rotation = o.rot;
  G.push(el);
}
txt(72, 27, titleText, {fontSize:37, fill:'#111'});
const letterY = [112, 378, 660, 942];
const titleY = [100, 377, 652, 924];
leftLetters.forEach((t, i) => txt(12, letterY[i], t, {fontSize:29, fontFamily:FS}));
leftTitles.forEach((t, i) => txt(148, titleY[i], t, {fontSize:30, fontWeight:'bold'}));
const flux = 'e\u2212  flux';
[195, 474, 750, 1030].forEach(y => txt(55, y, flux, {fontSize:26, align:'center', textAlign:'center', rot: Math.PI/2}));
[148, 330, 500, 683, 860, 1057].forEach(y => txt(728, y, flux, {fontSize:24, align:'center', textAlign:'center', rot: Math.PI/2}));
// panel annotations
const ann = [
  [398, 98, '15-16UT(P-B)', 'mag'], [413, 170, '13-14UT', 'gray'], [470, 208, '14-15UT', 'pink'],
  [176, 211, '15-16UT(P-A)', 'dark'], [331, 268, '14-15UT', 'light'],
  [484, 358, '16-17UT(P-B)', 'mag'], [548, 410, '15-16UT', 'pink'], [355, 458, '13-15UT', 'gray'],
  [146, 477, '16-17UT(P-A)', 'dark'], [321, 568, '15-16UT', 'light'],
  [477, 633, '17-18UT(P-B)', 'mag'], [534, 662, '16-17UT', 'pink'], [398, 732, '13-16UT', 'gray'],
  [192, 773, '16-17UT', 'light'], [332, 816, '17-18UT(P-A)', 'dark'],
  [318, 910, '18-19UT', 'light'], [505, 917, '19-20UT(P-A)', 'dark'], [422, 993, '13-18UT', 'gray'],
  [179, 1031, '19-20UT(P-B)', 'mag'], [332, 1103, '18-19UT', 'pink']
];
ann.forEach(a => txt(a[0], a[1], a[2], {fontSize:22, fill: TCOL[a[3]]}));
// L labels
txt(352, 1196, 'L', {fontSize:25, align:'center', textAlign:'center'});
txt(886, 1205, 'L', {fontSize:21, align:'center', textAlign:'center'});
txt(1172, 1205, 'L', {fontSize:21, align:'center', textAlign:'center'});
// right headers
txt(773, 50, '(e)', {fontSize:28, fontFamily:FS});
txt(839, 50, '15-16 UT', {fontSize:28, fontWeight:'bold'});
txt(1056, 50, '(f)', {fontSize:28, fontFamily:FS});
txt(1115, 50, '17-18 UT', {fontSize:28, fontWeight:'bold'});
const enY = [98, 278, 457, 638, 826, 1000];
energies.forEach((t, i) => { txt(788, enY[i], t, {fontSize:23, fontFamily:FN}); txt(1073, enY[i], t, {fontSize:23, fontFamily:FN}); });
// arrows
G.push({type:'line', silent:true, z:50, shape:{x1:572, y1:172, x2:597, y2:171}, style:{stroke:'#111', lineWidth:7}});
G.push({type:'polygon', silent:true, z:50, shape:{points:[[548,172],[579,157],[573,172],[579,187]]}, style:{fill:'#111'}});
[137, 321, 507, 737, 961].forEach(y => {
  G.push({type:'line', silent:true, z:50, shape:{x1:989, y1:y, x2:1009, y2:y}, style:{stroke:'#111', lineWidth:1.5}});
  G.push({type:'polygon', silent:true, z:50, shape:{points:[[983,y],[992,y-4],[992,y+4]]}, style:{fill:'#111'}});
});

const chart = echarts.init(document.getElementById('c'), null, {renderer:'canvas'});
chart.setOption({
  animation:false, backgroundColor:'#fff',
  grid: grids, xAxis: xAxes, yAxis: yAxes, series: series, graphic: {elements: G}
});
</script></body></html>
